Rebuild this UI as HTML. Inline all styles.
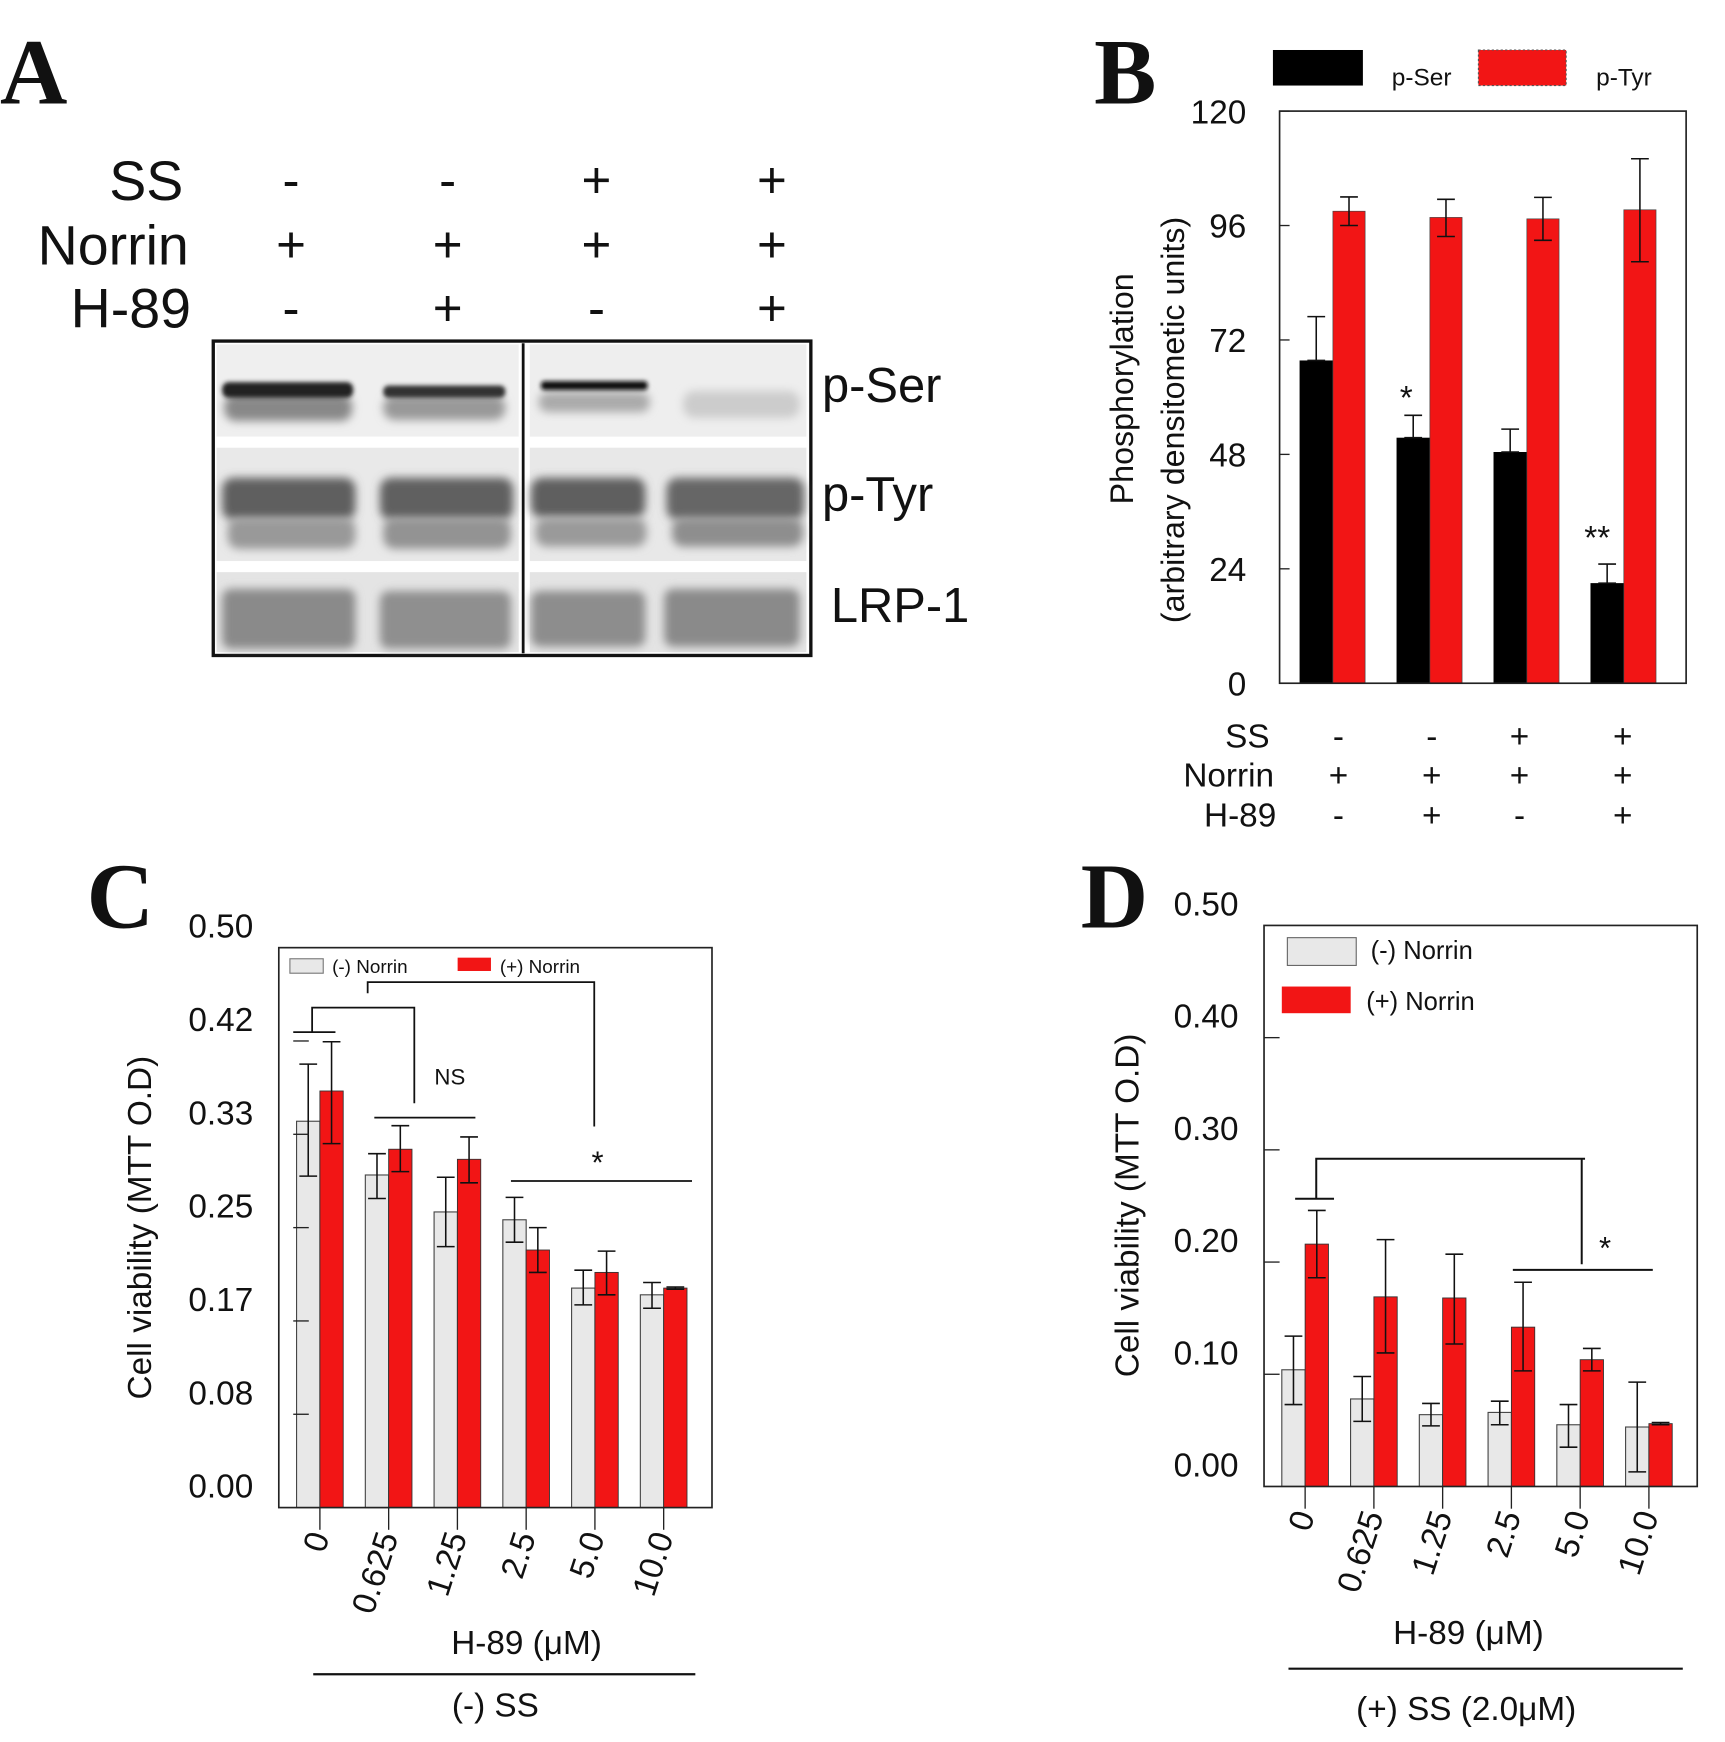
<!DOCTYPE html>
<html><head><meta charset="utf-8"><style>
html,body{margin:0;padding:0;background:#fff}
svg{display:block}
text{font-family:"Liberation Sans",sans-serif;fill:#111}
.ser{font-family:"Liberation Serif",serif;font-weight:bold}
</style></head><body>
<svg id="fig" width="1725" height="1742" viewBox="0 0 1553 1568" preserveAspectRatio="none" xmlns="http://www.w3.org/2000/svg">
<defs>
<filter id="bl" x="-20%" y="-50%" width="140%" height="200%"><feGaussianBlur stdDeviation="4"/></filter>
<filter id="bl2" x="-20%" y="-50%" width="140%" height="200%"><feGaussianBlur stdDeviation="2"/></filter>
</defs>
<!-- Panel A -->
<g id="panelA">
<text class="ser" x="0" y="93" font-size="84">A</text>
<text x="165" y="180" font-size="50" text-anchor="end">SS</text>
<text x="170" y="238" font-size="50" text-anchor="end">Norrin</text>
<text x="172" y="295" font-size="50" text-anchor="end">H-89</text>
<g id="aSyms" font-size="46" text-anchor="middle"></g>
<rect x="192" y="307" width="538" height="283" fill="#fff" stroke="#111" stroke-width="3"/>
<g>
<rect x="195" y="310" width="272" height="83" fill="#efefef"/><rect x="477" y="310" width="249" height="83" fill="#eeeeee"/>
<rect x="195" y="403" width="272" height="102" fill="#e9e9e9"/><rect x="477" y="403" width="249" height="102" fill="#e8e8e8"/>
<rect x="195" y="515" width="272" height="72" fill="#e4e4e4"/><rect x="477" y="515" width="249" height="72" fill="#e4e4e4"/>
</g>
<g>
<rect x="202" y="355" width="115" height="24" rx="10" fill="#888" filter="url(#bl)"/>
<rect x="200" y="344" width="118" height="14" rx="6" fill="#222" filter="url(#bl2)"/>
<rect x="345" y="356" width="110" height="22" rx="10" fill="#999" filter="url(#bl)"/>
<rect x="345" y="347" width="110" height="11" rx="5" fill="#333" filter="url(#bl2)"/>
<rect x="485" y="353" width="100" height="18" rx="8" fill="#aaa" filter="url(#bl)"/>
<rect x="487" y="343" width="96" height="8" rx="3" fill="#111" filter="url(#bl2)"/>
<rect x="615" y="352" width="105" height="24" rx="10" fill="#ccc" filter="url(#bl)"/>
</g>
<g>
<rect x="200" y="430" width="120" height="38" rx="10" fill="#5e5e5e" filter="url(#bl)"/>
<rect x="205" y="466" width="115" height="28" rx="10" fill="#999" filter="url(#bl)"/>
<rect x="342" y="430" width="120" height="38" rx="10" fill="#606060" filter="url(#bl)"/>
<rect x="345" y="466" width="115" height="28" rx="10" fill="#939393" filter="url(#bl)"/>
<rect x="478" y="430" width="103" height="36" rx="10" fill="#5e5e5e" filter="url(#bl)"/>
<rect x="482" y="466" width="100" height="26" rx="10" fill="#9a9a9a" filter="url(#bl)"/>
<rect x="600" y="430" width="124" height="38" rx="10" fill="#666" filter="url(#bl)"/>
<rect x="605" y="466" width="118" height="26" rx="10" fill="#8e8e8e" filter="url(#bl)"/>
</g>
<g>
<rect x="200" y="530" width="120" height="54" rx="8" fill="#8a8a8a" filter="url(#bl)"/>
<rect x="342" y="532" width="118" height="52" rx="8" fill="#8f8f8f" filter="url(#bl)"/>
<rect x="478" y="532" width="103" height="50" rx="8" fill="#8d8d8d" filter="url(#bl)"/>
<rect x="598" y="530" width="122" height="52" rx="8" fill="#8a8a8a" filter="url(#bl)"/>
</g>
<line x1="471" y1="309" x2="471" y2="588" stroke="#111" stroke-width="2.5"/>
<text x="740" y="362" font-size="44">p-Ser</text>
<text x="740" y="460" font-size="44">p-Tyr</text>
<text x="748" y="560" font-size="44">LRP-1</text>
</g>

<!-- Panel B -->
<g id="panelB">
<text class="ser" x="985" y="93" font-size="84">B</text>
<rect x="1146" y="45" width="81" height="32" fill="#000"/>
<text x="1253" y="77" font-size="22">p-Ser</text>
<rect x="1331" y="45" width="79" height="32" fill="#f21515" stroke="#555" stroke-dasharray="2 2"/>
<text x="1437" y="77" font-size="22">p-Tyr</text>
<text transform="translate(1020,350) rotate(-90)" font-size="29" text-anchor="middle">Phosphorylation</text>
<text transform="translate(1066,378) rotate(-90)" font-size="29" text-anchor="middle">(arbitrary densitometic units)</text>
<g id="bBars"></g>
<rect x="1152" y="100" width="366" height="515" fill="none" stroke="#222" stroke-width="1.5"/>
<g id="bAxis" font-size="30" text-anchor="end"></g>
<text x="1266" y="368" font-size="30" text-anchor="middle">*</text>
<text x="1438" y="494" font-size="30" text-anchor="middle">**</text>
<text x="1143" y="673" font-size="30" text-anchor="end">SS</text>
<text x="1147" y="708" font-size="30" text-anchor="end">Norrin</text>
<text x="1149" y="744" font-size="30" text-anchor="end">H-89</text>
<g id="bSyms" font-size="30" text-anchor="middle"></g>
</g>

<!-- Panel C -->
<g id="panelC">
<text class="ser" x="78" y="835" font-size="84">C</text>
<text transform="translate(136,1105) rotate(-90)" font-size="30" text-anchor="middle">Cell viability (MTT O.D)</text>
<g id="cBars"></g>
<rect x="251" y="853" width="390" height="504" fill="none" stroke="#222" stroke-width="1.5"/>
<g id="cAxis"></g>
<rect x="261" y="863" width="30" height="13" fill="#e8e8e8" stroke="#777"/>
<text x="299" y="876" font-size="17">(-)  Norrin</text>
<rect x="412" y="862" width="30" height="12" fill="#f21515"/>
<text x="450" y="876" font-size="17">(+)  Norrin</text>
<g stroke="#111" stroke-width="1.6" fill="none">
<polyline points="264,929 302,929"/><polyline points="281,929 281,907 373,907 373,993"/>
<polyline points="337,1006 428,1006"/><polyline points="331,894 331,884 535,884 535,1014"/>
<polyline points="460,1063 623,1063"/>
</g>
<text x="405" y="976" font-size="20" text-anchor="middle">NS</text>
<text x="538" y="1056" font-size="28" text-anchor="middle">*</text>
<text x="474" y="1489" font-size="30" text-anchor="middle">H-89 (μM)</text>
<line x1="282" y1="1507" x2="626" y2="1507" stroke="#111" stroke-width="2"/>
<text x="446" y="1545" font-size="30" text-anchor="middle">(-) SS</text>
</g>

<!-- Panel D -->
<g id="panelD">
<text class="ser" x="973" y="835" font-size="84">D</text>
<text transform="translate(1025,1085) rotate(-90)" font-size="30" text-anchor="middle">Cell viability (MTT O.D)</text>
<g id="dBars"></g>
<rect x="1138" y="833" width="390" height="505" fill="none" stroke="#222" stroke-width="1.5"/>
<g id="dAxis"></g>
<rect x="1159" y="844" width="62" height="25" fill="#e8e8e8" stroke="#666"/>
<text x="1234" y="863" font-size="23">(-)  Norrin</text>
<rect x="1154" y="888" width="62" height="24" fill="#f21515"/>
<text x="1230" y="909" font-size="23">(+)  Norrin</text>
<g stroke="#111" stroke-width="1.8" fill="none">
<polyline points="1166,1079 1201,1079"/><polyline points="1185,1079 1185,1043 1427,1043"/>
<polyline points="1424,1043 1424,1138"/><polyline points="1362,1143 1488,1143"/>
</g>
<text x="1445" y="1133" font-size="28" text-anchor="middle">*</text>
<text x="1322" y="1480" font-size="30" text-anchor="middle">H-89 (μM)</text>
<line x1="1160" y1="1502" x2="1515" y2="1502" stroke="#111" stroke-width="2"/>
<text x="1320" y="1548" font-size="30" text-anchor="middle">(+) SS (2.0μM)</text>
</g>
</svg>
<script>
var NS="http://www.w3.org/2000/svg";
// ---- Panel A data
var aRows=[["-","-","+","+"],["+","+","+","+"],["-","+","-","+"]];
// ---- Panel B data
var bCats=["g1","g2","g3","g4"];
var bSer=[67.7,51.5,48.5,21];
var bSerHi=[76.9,56.2,53.3,25];
var bTyr=[99,97.7,97.4,99.3];
var bTyrHi=[102,101.5,101.9,110];
var bTyrLo=[96,93.7,92.9,88.4];
var bTicks=[0,24,48,72,96,120];
var bRows=[["-","-","+","+"],["+","+","+","+"],["-","+","-","+"]];
// ---- Panel C data
var xLabels=["0","0.625","1.25","2.5","5.0","10.0"];
var cGray=[0.345,0.297,0.264,0.257,0.196,0.190];
var cGrayHi=[0.396,0.316,0.295,0.277,0.212,0.201];
var cGrayLo=[0.296,0.276,0.233,0.237,0.181,0.178];
var cRed=[0.372,0.320,0.311,0.230,0.210,0.196];
var cRedHi=[0.416,0.341,0.331,0.250,0.229,0.197];
var cRedLo=[0.325,0.300,0.290,0.210,0.190,0.195];
var cTickLabels=["0.00","0.08","0.17","0.25","0.33","0.42","0.50"];
// ---- Panel D data
var dGray=[0.104,0.078,0.064,0.066,0.055,0.053];
var dGrayHi=[0.134,0.098,0.074,0.076,0.073,0.093];
var dGrayLo=[0.073,0.058,0.054,0.055,0.035,0.013];
var dRed=[0.216,0.169,0.168,0.142,0.113,0.056];
var dRedHi=[0.246,0.220,0.207,0.182,0.123,0.057];
var dRedLo=[0.186,0.119,0.127,0.103,0.103,0.055];
var dTickLabels=["0.00","0.10","0.20","0.30","0.40","0.50"];

function mk(tag,attrs,parent){var e=document.createElementNS(NS,tag);for(var k in attrs)e.setAttribute(k,attrs[k]);parent.appendChild(e);return e;}
function txt(x,y,s,parent,extra){var t=mk('text',Object.assign({x:x,y:y},extra||{}),parent);t.textContent=s;return t;}

// Panel A symbols
var aG=document.getElementById('aSyms');
var aCols=[262,403,537,695],aYs=[178,236,293];
aRows.forEach(function(r,ri){r.forEach(function(s,ci){
 var t=txt(aCols[ci],aYs[ri],s,aG);
 
 
});});

// Panel B
function bY(v){return 615-v*(515/120);}
function bX(i){return 1200+i*87.3;}
var bG=document.getElementById('bBars');
function errBar(g,x,hi,lo,yf,cap){
 var l=mk('line',{x1:x,x2:x,y1:yf(hi),y2:yf(lo),stroke:'#111','stroke-width':1.4},g);
 
 
 [hi,lo].forEach(function(v){var c=mk('line',{x1:x-cap,x2:x+cap,y1:yf(v),y2:yf(v),stroke:'#111','stroke-width':1.4},g);
 
 });
}
bCats.forEach(function(c,i){
 var x=bX(i);
 var r1=mk('rect',{x:x-30,y:bY(bSer[i]),width:30,height:bY(0)-bY(bSer[i]),fill:'#000'},bG);
 
 
 var r2=mk('rect',{x:x,y:bY(bTyr[i]),width:29,height:bY(0)-bY(bTyr[i]),fill:'#f21515',stroke:'#444','stroke-width':0.6},bG);
 
 
 errBar(bG,x-15,bSerHi[i],bSer[i],bY,8);
 errBar(bG,x+14.5,bTyrHi[i],bTyrLo[i],bY,8);
});
var bA=document.getElementById('bAxis');
bTicks.forEach(function(v){
 var t=txt(1122,bY(v)+11,String(v),bA);
 
 
 var l=mk('line',{x1:1152,x2:1161,y1:bY(v),y2:bY(v),stroke:'#222','stroke-width':1.2},bA);
 
 
});
var bS=document.getElementById('bSyms');
var bYs=[673,708,744],bColX=[1205,1289,1368,1461];
bRows.forEach(function(r,ri){r.forEach(function(s,ci){
 var t=txt(bColX[ci],bYs[ri],s,bS);
 
 
});});

// Generic C/D drawer
function drawCD(gid,aid,left,bottom,top,vmax,tickLabels,tickStep,gray,grayHi,grayLo,red,redHi,redLo,labelOffset,labelRight,fs,nTicks){
 var yf=function(v){return bottom-(v/vmax)*(bottom-top);};
 var xf=function(i){return left+i*61.9;};
 var g=document.getElementById(gid);
 gray.forEach(function(v,i){
  var x=xf(i);
  var r=mk('rect',{x:x-21,y:yf(v),width:21,height:bottom-yf(v),fill:'#e8e8e8',stroke:'#444','stroke-width':1},g);
  
  
  var r2=mk('rect',{x:x,y:yf(red[i]),width:21,height:bottom-yf(red[i]),fill:'#f21515',stroke:'#333','stroke-width':0.8},g);
  
  
  errBar(g,x-10.5,grayHi[i],grayLo[i],yf,8);
  errBar(g,x+10.5,redHi[i],redLo[i],yf,8);
 });
 var a=document.getElementById(aid);
 tickLabels.forEach(function(s,k){
  var v=k*tickStep;
  var t=txt(labelRight,yf(v)-labelOffset+11,s,a,{'font-size':fs,'text-anchor':'end'});
  
  
  if(k>0&&k<nTicks){
   var l=mk('line',{x1:left-24-(gid=='cBars'?0:13),x2:left-24-(gid=='cBars'?0:13)+14,y1:yf(v),y2:yf(v),stroke:'#222','stroke-width':1.2},a);
   
   
  }
 });
 xLabels.forEach(function(s,i){
  var x=xf(i);
  var l=mk('line',{x1:x,x2:x,y1:bottom,y2:bottom+20,stroke:'#222','stroke-width':1.2},a);
  
  
  var t=txt(0,0,s,a,{'font-size':30,'text-anchor':'end',transform:'translate('+(x+9)+','+(bottom+26)+') rotate(-72)'});
  
  
 });
}
drawCD('cBars','cAxis',288,1357,853,0.5,cTickLabels,0.5/6,cGray,cGrayHi,cGrayLo,cRed,cRedHi,cRedLo,20,228,30,6);
drawCD('dBars','dAxis',1175,1338,833,0.5,dTickLabels,0.1,dGray,dGrayHi,dGrayLo,dRed,dRedHi,dRedLo,20,1115,30,5);
</script>
</body></html>
